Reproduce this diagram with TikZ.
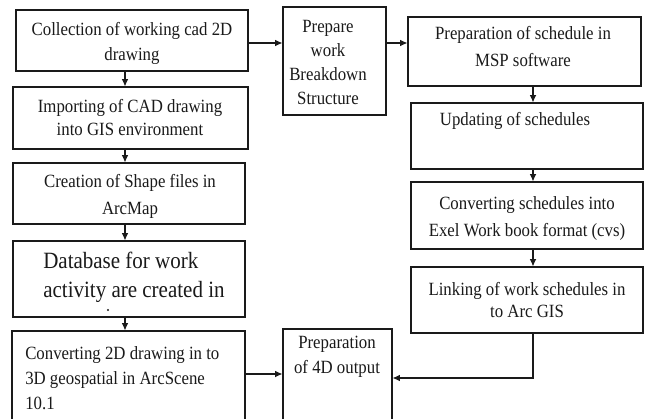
\documentclass[tikz,border=0pt]{standalone}
\usepackage{fontspec}
\setmainfont{Liberation Serif}[FakeStretch=0.9]
\usetikzlibrary{fit,arrows.meta}
\definecolor{ink}{HTML}{1A1A1A}
\begin{document}
\begin{tikzpicture}[x=0.75pt,y=-0.75pt,
  box/.style={draw=ink, line width=0.8pt, inner sep=0pt},
  txt/.style={inner sep=0pt, text=ink, align=center, anchor=north},
  ltxt/.style={inner sep=0pt, text=ink, align=left, anchor=north west},
  arr/.style={draw=ink, line width=0.8pt, -{Latex[length=5.5pt,width=5pt]}}]
\clip (0,0) rectangle (645,418);
\fill[white] (0,0) rectangle (645,418);
% boxes
\node[box, fit={(16,10)(248,71)}] (b1) {};
\node[box, fit={(13,87)(248,149)}] (b2) {};
\node[box, fit={(13,163)(245,224)}] (b3) {};
\node[box, fit={(13,241)(245,317)}] (b4) {};
\node[box, fit={(12,331)(245,430)}] (b5) {};
\node[box, fit={(283,7)(386,115)}] (wbs) {};
\node[box, fit={(283,329)(392,430)}] (out) {};
\node[box, fit={(408,17)(641,86)}] (r1) {};
\node[box, fit={(411,103)(643,169)}] (r2) {};
\node[box, fit={(411,182)(643,249)}] (r3) {};
\node[box, fit={(411,267)(643,333)}] (r4) {};
% texts
\node[txt, font=\fontsize{14}{18.75}\selectfont] (t1) at (132,22) {Collection of working cad 2D\\drawing};
\node[txt, font=\fontsize{14}{17.5}\selectfont] (t2) at (130,99) {Importing of CAD drawing\\into GIS environment};
\node[txt, font=\fontsize{14}{20.5}\selectfont] (t3) at (130,174) {Creation of Shape files in\\ArcMap};
\node[ltxt, font=\fontsize{17.5}{21.75}\selectfont] (t4) at (43,252) {Database for work\\activity are created in};
\fill[ink] (108,310) circle[radius=0.8pt];
\node[ltxt, font=\fontsize{14}{18.75}\selectfont] (t5) at (25,346) {Converting 2D drawing in to\\3D geospatial in ArcScene\\10.1};
\node[txt, font=\fontsize{14}{18}\selectfont] (tw) at (328,20) {Prepare\\work\\Breakdown\\Structure};
\node[txt, font=\fontsize{14}{18.75}\selectfont] (to) at (337,336) {Preparation\\of 4D output};
\node[txt, font=\fontsize{14}{20.25}\selectfont] (tr1) at (523,26) {Preparation of schedule in\\MSP software};
\node[txt, font=\fontsize{14}{18.75}\selectfont] (tr2) at (515,112) {Updating of schedules};
\node[txt, font=\fontsize{14}{20.25}\selectfont] (tr3) at (527,196) {Converting schedules into\\Exel Work book format (cvs)};
\node[txt, font=\fontsize{14}{16.5}\selectfont] (tr4) at (527,282) {Linking of work schedules in\\to Arc GIS};
% connectors
\coordinate (lx) at (125,0);
\coordinate (rx) at (533,0);
\coordinate (ya) at (0,43);
\coordinate (yb) at (0,374);
\coordinate (yc) at (0,378);
\draw[arr] (b1.south -| lx) -- (b2.north -| lx);
\draw[arr] (b2.south -| lx) -- (b3.north -| lx);
\draw[arr] (b3.south -| lx) -- (b4.north -| lx);
\draw[arr] (b4.south -| lx) -- (b5.north -| lx);
\draw[arr] (b1.east |- ya) -- (wbs.west |- ya);
\draw[arr] (wbs.east |- ya) -- (r1.west |- ya);
\draw[arr] (r1.south -| rx) -- (r2.north -| rx);
\draw[arr] (r2.south -| rx) -- (r3.north -| rx);
\draw[arr] (r3.south -| rx) -- (r4.north -| rx);
\draw[arr] (b5.east |- yb) -- (out.west |- yb);
\draw[arr] (r4.south -| rx) |- (out.east |- yc);
\end{tikzpicture}
\end{document}
